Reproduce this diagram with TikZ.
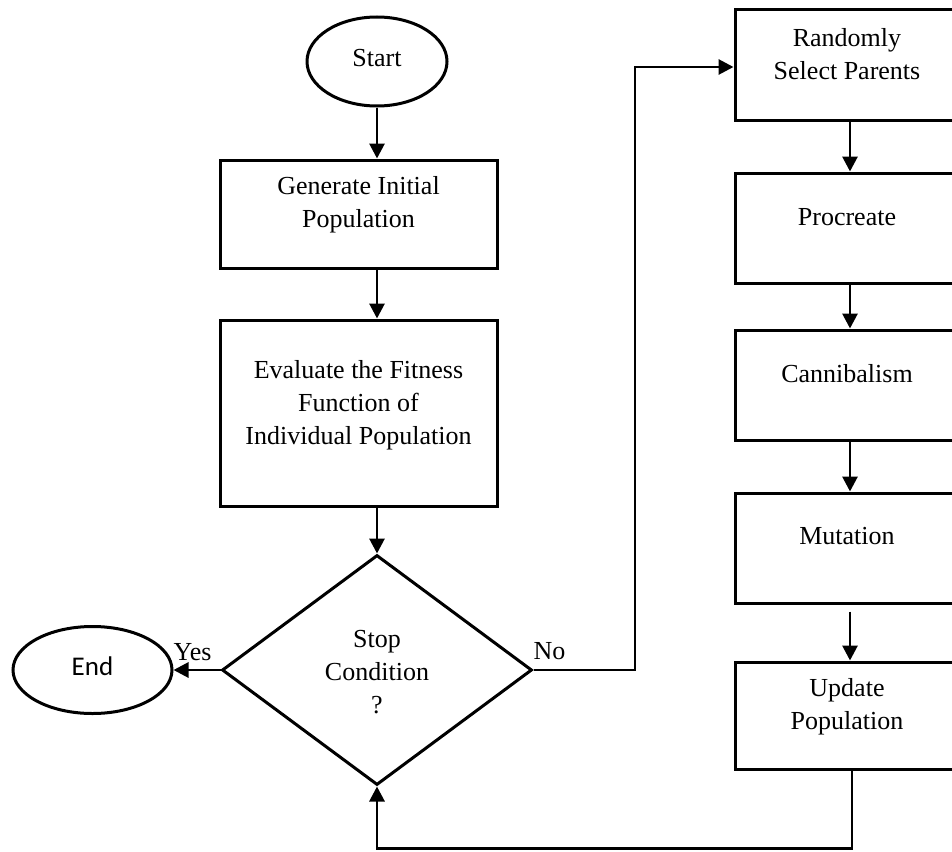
\documentclass[tikz,border=0pt]{standalone}
\usepackage{fontspec}
\setmainfont{Liberation Serif}
\newfontfamily\endfont{Carlito}
\usetikzlibrary{shapes.geometric,arrows.meta,calc}
\tikzset{
 shapeline/.style={draw=black, line width=3pt},
 procbox/.style={shapeline, rectangle, inner sep=0pt},
 oval/.style={shapeline, ellipse, inner sep=0pt},
 decision/.style={shapeline, diamond, inner sep=0pt, minimum width=310pt, minimum height=230pt},
 txt/.style={align=center, font=\fontsize{26}{33}\selectfont, inner sep=0pt},
 flow/.style={line width=2.9pt, -{Triangle[width=15pt,length=15pt]}}
}
\begin{document}
\begin{tikzpicture}[x=1pt,y=-1pt]
\useasboundingbox (0,0) rectangle (952,851);
% left column
\node[oval, minimum width=140pt, minimum height=89pt] (start) at (377,61.5) {};
\node[txt] (starttxt) at (377,58) {Start};
\node[procbox, minimum width=277pt, minimum height=108pt] (gen) at (358.5,214) {};
\node[txt] (gentxt) at (358.5,205) {Generate Initial\\Population};
\node[procbox, minimum width=277pt, minimum height=186pt] (eval) at (358.5,413) {};
\node[txt] (evaltxt) at (358.5,405) {Evaluate the Fitness\\Function of\\Individual Population};
\node[decision] (stop) at (377,670) {};
\node[txt] (stoptxt) at (377,672) {Stop\\Condition\\?};
\node[oval, minimum width=159pt, minimum height=87pt] (end) at (92.5,670) {};
\node[txt, font=\endfont\fontsize{27}{33}\selectfont] (endtxt) at (92.5,666) {End};
% right column
\node[procbox, minimum width=224pt, minimum height=110pt] (sel) at (847,65) {};
\node[txt] (seltxt) at (847,54.5) {Randomly\\Select Parents};
\node[procbox, minimum width=224pt, minimum height=110pt] (proc) at (847,228) {};
\node[txt] (proctxt) at (847,217) {Procreate};
\node[procbox, minimum width=224pt, minimum height=110pt] (cann) at (847,385) {};
\node[txt] (canntxt) at (847,374) {Cannibalism};
\node[procbox, minimum width=224pt, minimum height=110pt] (mut) at (847,548) {};
\node[txt] (muttxt) at (847,536) {Mutation};
\node[procbox, minimum width=224pt, minimum height=107pt] (upd) at (847,715.5) {};
\node[txt] (updtxt) at (847,707) {Update\\Population};
% labels
\node[txt, anchor=base] (yes) at (192.5,660) {Yes};
\node[txt, anchor=base] (no) at (549.5,659) {No};
% connectors
\draw[flow] (start.south) -- (start.south |- gen.north);
\draw[flow] (start |- gen.south) -- (start |- eval.north);
\draw[flow] (start |- eval.south) -- (stop.north);
\draw[flow] (stop.west) -- (stop.west -| end.east);
\coordinate (nobend) at (635,0);
\coordinate (selin) at ($(sel.west)+(0,2)$);
\draw[flow] (stop.east) -- (stop.east -| nobend) |- (selin);
\coordinate (col) at (850,0);
\draw[flow] (col |- sel.south) -- (col |- proc.north);
\draw[flow] (col |- proc.south) -- (col |- cann.north);
\draw[flow] (col |- cann.south) -- (col |- mut.north);
\coordinate (mutgap) at ($(col |- mut.south)+(0,7)$);
\draw[flow] (mutgap) -- (col |- upd.north);
\coordinate (loopb) at (852,848.5);
\draw[flow] (loopb |- upd.south) -- (loopb) -| (stop.south);
\end{tikzpicture}
\end{document}
